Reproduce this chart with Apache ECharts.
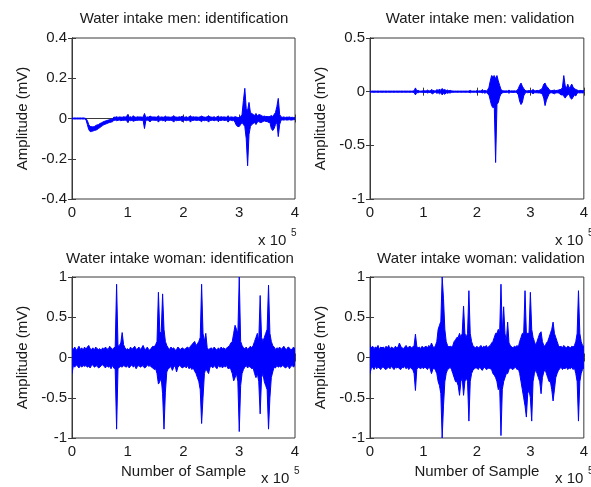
<!DOCTYPE html>
<html><head><meta charset="utf-8">
<script src="https://cdn.jsdelivr.net/npm/echarts@6/dist/echarts.min.js"></script>
<style>html,body{margin:0;padding:0;background:#fff}#c{width:591px;height:487px}</style>
</head><body><div id="c"></div>
<script>
// samples are spaced evenly; each entry is the max (Hi) / min (Lo) of the signal in that bin
const sampleStep = 2500;
const xTickValues = [0, 100000, 200000, 300000, 400000];
const panelTitles = ['Water intake men: identification', 'Water intake men: validation', 'Water intake woman: identification', 'Water intake woman: validation'];
const yLabel = 'Amplitude (mV)';
const xLabel = 'Number of Sample';
const yRanges = [[-0.4, 0.4, 0.2], [-1, 0.5, 0.5], [-1, 1, 0.5], [-1, 1, 0.5]];

const menIdHi = [
0.003,0.002,0.003,0.002,0.003,0.002,0.003,0.002,0.003,0.002,
0.0,-0.01,-0.03,-0.04,-0.04,-0.042,-0.04,-0.035,-0.032,-0.03,
-0.025,-0.022,-0.018,-0.015,-0.012,-0.01,-0.008,-0.005,-0.004,-0.002,
0.007,0.006,0.009,0.005,0.008,0.007,0.006,0.009,0.007,0.008,
0.02,0.006,0.009,0.005,0.014,0.007,0.006,0.009,0.007,0.008,
0.007,0.006,0.025,0.005,0.008,0.007,0.012,0.009,0.007,0.008,
0.007,0.006,0.014,0.005,0.008,0.007,0.006,0.012,0.007,0.008,
0.007,0.006,0.009,0.014,0.008,0.007,0.006,0.009,0.007,0.012,
0.007,0.006,0.009,0.005,0.008,0.014,0.006,0.009,0.007,0.008,
0.007,0.006,0.009,0.012,0.008,0.007,0.006,0.009,0.014,0.008,
0.007,0.006,0.009,0.005,0.008,0.012,0.006,0.009,0.007,0.008,
0.007,0.006,0.014,0.005,0.008,0.007,0.006,0.009,0.007,0.005,
0.005,0.01,0.02,0.09,0.15,0.05,0.04,0.08,0.03,0.025,
0.02,0.015,0.025,0.012,0.02,0.018,0.015,0.01,0.012,0.01,
0.01,0.01,0.01,0.015,0.01,0.02,0.03,0.06,0.1,0.02,
0.008,0.006,0.008,0.005,0.007,0.006,0.008,0.005,0.006,0.005,
0.004];
const menIdLo = [
-0.003,-0.002,-0.003,-0.002,-0.003,-0.002,-0.003,-0.002,-0.003,-0.002,
-0.006,-0.03,-0.055,-0.065,-0.065,-0.062,-0.06,-0.058,-0.055,-0.05,
-0.045,-0.04,-0.035,-0.03,-0.028,-0.025,-0.022,-0.02,-0.018,-0.016,
-0.01,-0.008,-0.011,-0.009,-0.008,-0.011,-0.009,-0.01,-0.008,-0.009,
-0.02,-0.008,-0.011,-0.009,-0.014,-0.011,-0.009,-0.01,-0.008,-0.009,
-0.01,-0.008,-0.05,-0.009,-0.008,-0.011,-0.016,-0.01,-0.008,-0.009,
-0.01,-0.008,-0.018,-0.009,-0.008,-0.011,-0.009,-0.016,-0.008,-0.009,
-0.01,-0.008,-0.011,-0.018,-0.008,-0.011,-0.009,-0.01,-0.008,-0.016,
-0.01,-0.008,-0.011,-0.009,-0.008,-0.018,-0.009,-0.01,-0.008,-0.009,
-0.01,-0.008,-0.011,-0.016,-0.008,-0.011,-0.009,-0.01,-0.018,-0.009,
-0.01,-0.008,-0.011,-0.009,-0.008,-0.016,-0.009,-0.01,-0.008,-0.009,
-0.01,-0.008,-0.018,-0.009,-0.008,-0.011,-0.009,-0.02,-0.035,-0.04,
-0.04,-0.03,-0.02,-0.03,-0.04,-0.1,-0.235,-0.08,-0.04,-0.03,
-0.025,-0.02,-0.03,-0.018,-0.015,-0.02,-0.02,-0.015,-0.012,-0.015,
-0.015,-0.02,-0.02,-0.05,-0.06,-0.05,-0.03,-0.02,-0.09,-0.03,
-0.008,-0.007,-0.008,-0.006,-0.008,-0.007,-0.006,-0.008,-0.007,-0.006,
-0.005];

const menValHi = [
0.006,0.005,0.006,0.005,0.006,0.005,0.006,0.005,0.006,0.005,
0.006,0.005,0.006,0.005,0.006,0.005,0.006,0.005,0.006,0.005,
0.006,0.005,0.006,0.005,0.006,0.005,0.006,0.005,0.006,0.005,
0.006,0.005,0.006,0.008,0.035,0.008,0.012,0.006,0.005,0.006,
0.01,0.008,0.006,0.015,0.008,0.006,0.02,0.012,0.008,0.006,
0.02,0.01,0.025,0.012,0.03,0.015,0.02,0.01,0.015,0.008,
0.012,0.008,0.006,0.005,0.006,0.005,0.006,0.005,0.006,0.005,
0.006,0.005,0.006,0.005,0.006,0.012,0.006,0.005,0.006,0.005,
0.01,0.006,0.008,0.006,0.02,0.008,0.012,0.006,0.015,0.04,
0.1,0.15,0.14,0.15,0.12,0.15,0.1,0.06,0.02,0.01,
0.008,0.006,0.008,0.006,0.015,0.006,0.008,0.006,0.008,0.006,
0.01,0.03,0.06,0.08,0.05,0.03,0.012,0.008,0.008,0.01,
0.008,0.01,0.02,0.01,0.008,0.012,0.01,0.015,0.02,0.035,
0.07,0.08,0.05,0.04,0.02,0.012,0.01,0.012,0.015,0.01,
0.012,0.015,0.02,0.02,0.04,0.15,0.06,0.03,0.07,0.03,
0.05,0.07,0.04,0.03,0.02,0.015,0.01,0.012,0.01,0.01,
0.01];
const menValLo = [
-0.006,-0.005,-0.006,-0.005,-0.006,-0.005,-0.006,-0.005,-0.006,-0.005,
-0.006,-0.005,-0.006,-0.005,-0.006,-0.005,-0.006,-0.005,-0.006,-0.005,
-0.006,-0.005,-0.006,-0.005,-0.006,-0.005,-0.006,-0.005,-0.006,-0.005,
-0.006,-0.005,-0.006,-0.008,-0.03,-0.008,-0.01,-0.006,-0.005,-0.006,
-0.008,-0.008,-0.006,-0.012,-0.008,-0.006,-0.015,-0.02,-0.008,-0.006,
-0.015,-0.01,-0.02,-0.01,-0.03,-0.015,-0.025,-0.01,-0.015,-0.01,
-0.012,-0.008,-0.006,-0.005,-0.006,-0.005,-0.006,-0.005,-0.006,-0.005,
-0.006,-0.005,-0.006,-0.005,-0.006,-0.01,-0.006,-0.005,-0.006,-0.005,
-0.01,-0.006,-0.008,-0.006,-0.012,-0.008,-0.015,-0.006,-0.02,-0.03,
-0.08,-0.13,-0.15,-0.14,-0.66,-0.12,-0.1,-0.05,-0.02,-0.012,
-0.008,-0.006,-0.008,-0.006,-0.015,-0.006,-0.008,-0.006,-0.008,-0.006,
-0.01,-0.03,-0.09,-0.12,-0.1,-0.04,-0.015,-0.008,-0.01,-0.008,
-0.008,-0.01,-0.02,-0.01,-0.01,-0.01,-0.012,-0.012,-0.015,-0.025,
-0.06,-0.13,-0.08,-0.05,-0.02,-0.012,-0.01,-0.015,-0.02,-0.012,
-0.01,-0.012,-0.02,-0.03,-0.03,-0.04,-0.06,-0.04,-0.03,-0.02,
-0.06,-0.07,-0.05,-0.03,-0.04,-0.015,-0.01,-0.012,-0.01,-0.012,
-0.01];

const womanIdHi = [
0.12,0.1,0.13,0.09,0.11,0.14,0.1,0.12,0.09,0.13,
0.1,0.13,0.15,0.11,0.1,0.12,0.09,0.13,0.11,0.1,
0.11,0.09,0.12,0.1,0.13,0.11,0.1,0.14,0.12,0.1,
0.12,0.13,0.91,0.14,0.15,0.18,0.31,0.16,0.12,0.1,
0.11,0.09,0.13,0.1,0.12,0.14,0.1,0.11,0.13,0.1,
0.12,0.15,0.11,0.1,0.13,0.1,0.09,0.12,0.14,0.13,
0.16,0.2,0.81,0.32,0.3,0.79,0.35,0.2,0.15,0.12,
0.1,0.13,0.11,0.12,0.09,0.1,0.13,0.11,0.1,0.12,
0.11,0.1,0.12,0.13,0.11,0.14,0.16,0.18,0.2,0.15,
0.17,0.2,0.25,0.91,0.3,0.2,0.3,0.12,0.1,0.11,
0.12,0.1,0.13,0.11,0.09,0.12,0.1,0.13,0.11,0.12,
0.1,0.12,0.13,0.15,0.18,0.2,0.3,0.4,0.35,0.3,
1.0,0.2,0.15,0.12,0.11,0.13,0.1,0.12,0.14,0.12,
0.15,0.2,0.25,0.3,0.2,0.77,0.25,0.2,0.25,0.3,
0.35,0.9,0.3,0.2,0.15,0.13,0.1,0.12,0.11,0.13,
0.1,0.12,0.14,0.11,0.1,0.13,0.12,0.09,0.11,0.13,
0.1];
const womanIdLo = [
-0.2,-0.1,-0.12,-0.09,-0.11,-0.13,-0.1,-0.12,-0.1,-0.11,
-0.1,-0.12,-0.11,-0.13,-0.1,-0.09,-0.12,-0.11,-0.1,-0.13,
-0.12,-0.1,-0.09,-0.11,-0.13,-0.1,-0.12,-0.11,-0.14,-0.1,
-0.13,-0.15,-0.89,-0.14,-0.12,-0.11,-0.12,-0.1,-0.11,-0.12,
-0.1,-0.13,-0.11,-0.09,-0.12,-0.1,-0.14,-0.11,-0.1,-0.12,
-0.11,-0.1,-0.13,-0.12,-0.09,-0.11,-0.1,-0.12,-0.13,-0.15,
-0.14,-0.2,-0.33,-0.3,-0.25,-0.45,-0.89,-0.43,-0.18,-0.14,
-0.13,-0.11,-0.16,-0.12,-0.1,-0.18,-0.12,-0.1,-0.11,-0.13,
-0.12,-0.11,-0.13,-0.1,-0.14,-0.12,-0.15,-0.13,-0.17,-0.2,
-0.25,-0.3,-0.4,-0.82,-0.5,-0.2,-0.14,-0.17,-0.2,-0.12,
-0.11,-0.13,-0.1,-0.12,-0.14,-0.1,-0.12,-0.11,-0.13,-0.1,
-0.12,-0.1,-0.14,-0.13,-0.15,-0.2,-0.29,-0.25,-0.2,-0.3,
-0.92,-0.35,-0.2,-0.15,-0.12,-0.1,-0.13,-0.11,-0.12,-0.14,
-0.13,-0.2,-0.25,-0.2,-0.3,-0.7,-0.25,-0.2,-0.3,-0.35,
-0.4,-0.89,-0.5,-0.25,-0.18,-0.12,-0.13,-0.1,-0.12,-0.11,
-0.12,-0.1,-0.11,-0.13,-0.12,-0.1,-0.14,-0.11,-0.1,-0.12,
-0.09];

const womanValHi = [
0.15,0.12,0.14,0.11,0.13,0.12,0.15,0.1,0.13,0.12,
0.13,0.11,0.14,0.12,0.15,0.1,0.13,0.12,0.11,0.14,
0.12,0.13,0.18,0.14,0.12,0.11,0.13,0.15,0.12,0.13,
0.14,0.12,0.13,0.15,0.29,0.14,0.12,0.13,0.11,0.14,
0.12,0.13,0.14,0.12,0.15,0.13,0.18,0.14,0.12,0.15,
0.2,0.35,0.4,0.45,1.0,0.73,0.35,0.2,0.15,0.13,
0.14,0.13,0.15,0.2,0.22,0.25,0.25,0.3,0.25,0.3,
0.64,0.3,0.25,0.3,0.83,0.3,0.2,0.15,0.13,0.12,
0.14,0.12,0.13,0.15,0.12,0.14,0.13,0.15,0.12,0.14,
0.15,0.18,0.2,0.25,0.3,0.3,0.35,0.3,0.91,0.3,
0.63,0.3,0.2,0.44,0.18,0.15,0.13,0.12,0.14,0.13,
0.15,0.13,0.2,0.25,0.3,0.3,0.83,0.3,0.3,0.3,
0.81,0.35,0.25,0.2,0.15,0.2,0.25,0.3,0.32,0.2,
0.15,0.14,0.18,0.2,0.25,0.3,0.35,0.44,0.3,0.25,
0.2,0.15,0.13,0.14,0.12,0.15,0.13,0.12,0.14,0.13,
0.12,0.14,0.13,0.15,0.2,0.3,0.83,0.3,0.2,0.15,
0.14];
const womanValLo = [
-0.2,-0.13,-0.12,-0.15,-0.11,-0.14,-0.12,-0.13,-0.15,-0.12,
-0.12,-0.14,-0.15,-0.13,-0.12,-0.14,-0.11,-0.13,-0.15,-0.12,
-0.13,-0.12,-0.14,-0.15,-0.12,-0.13,-0.11,-0.14,-0.12,-0.15,
-0.12,-0.14,-0.15,-0.2,-0.41,-0.15,-0.12,-0.13,-0.14,-0.12,
-0.14,-0.12,-0.13,-0.15,-0.12,-0.14,-0.2,-0.15,-0.13,-0.16,
-0.2,-0.3,-0.35,-0.45,-1.0,-0.6,-0.3,-0.2,-0.15,-0.14,
-0.12,-0.15,-0.2,-0.25,-0.3,-0.3,-0.35,-0.47,-0.3,-0.25,
-0.47,-0.3,-0.25,-0.3,-0.79,-0.3,-0.2,-0.16,-0.14,-0.13,
-0.13,-0.15,-0.12,-0.14,-0.16,-0.13,-0.12,-0.15,-0.14,-0.13,
-0.14,-0.15,-0.2,-0.22,-0.25,-0.3,-0.4,-0.35,-0.97,-0.4,
-0.3,-0.25,-0.2,-0.2,-0.15,-0.13,-0.14,-0.15,-0.13,-0.12,
-0.15,-0.14,-0.2,-0.3,-0.4,-0.5,-0.6,-0.74,-0.45,-0.4,
-0.5,-0.79,-0.3,-0.2,-0.15,-0.2,-0.25,-0.3,-0.45,-0.25,
-0.18,-0.15,-0.2,-0.25,-0.3,-0.3,-0.4,-0.54,-0.4,-0.25,
-0.2,-0.16,-0.14,-0.12,-0.15,-0.13,-0.14,-0.12,-0.15,-0.13,
-0.14,-0.12,-0.15,-0.13,-0.2,-0.3,-0.79,-0.3,-0.2,-0.15,
-0.13];

const panelHi = [menIdHi, menValHi, womanIdHi, womanValHi];
const panelLo = [menIdLo, menValLo, womanIdLo, womanValLo];

// ---- layout / styling ----
const FONT = '"Liberation Sans", Arial, Helvetica, sans-serif';
const TXT = '#1a1a1a';
const FRAME = '#3a3a3a';
const grids = [
  {left: 72, top: 38, width: 223, height: 161},
  {left: 370, top: 38, width: 222, height: 161},
  {left: 72, top: 277, width: 223, height: 161},
  {left: 370, top: 277, width: 222, height: 161}
];

// the signal envelope: upper values left-to-right, then lower values right-to-left,
// every vertex placed through the axes' own scale (api.coord)
function makeBand(k) {
  const hi = panelHi[k], lo = panelLo[k];
  return function (params, api) {
    const pts = [];
    for (let i = 0; i < hi.length; i++) pts.push(api.coord([i * sampleStep, hi[i]]));
    for (let i = lo.length - 1; i >= 0; i--) pts.push(api.coord([i * sampleStep, lo[i]]));
    return {type: 'polygon', shape: {points: pts},
      style: {fill: '#0000ff', stroke: '#0000ff', lineWidth: 1, lineJoin: 'miter', miterLimit: 2}};
  };
}

const xAxes = [], yAxes = [], series = [];
grids.forEach((g, k) => {
  const bottomRow = k >= 2;
  const common = {
    type: 'value', gridIndex: k, min: xTickValues[0], max: xTickValues[xTickValues.length - 1],
    interval: xTickValues[1] - xTickValues[0],
    axisLine: {show: true, lineStyle: {color: FRAME, width: 1}},
    axisTick: {show: true, inside: true, length: 4, lineStyle: {color: FRAME}},
    splitLine: {show: false}
  };
  xAxes.push(Object.assign({}, common, {
    position: 'bottom',
    axisLabel: {show: true, color: TXT, fontFamily: FONT, fontSize: 15, margin: 6,
      formatter: v => String(Math.round(v / 100000))},
    name: bottomRow ? xLabel : '', nameLocation: 'middle', nameGap: 26,
    nameTextStyle: {color: TXT, fontFamily: FONT, fontSize: 15}
  }));
  xAxes.push(Object.assign({}, common, {position: 'top', axisLabel: {show: false}}));
  const [ymin, ymax, yint] = yRanges[k];
  const yc = {
    type: 'value', gridIndex: k, min: ymin, max: ymax, interval: yint,
    axisLine: {show: true, lineStyle: {color: FRAME, width: 1}},
    axisTick: {show: true, inside: true, length: 4, lineStyle: {color: FRAME}},
    splitLine: {show: false}
  };
  yAxes.push(Object.assign({}, yc, {
    position: 'left',
    axisLabel: {show: true, color: TXT, fontFamily: FONT, fontSize: 15, margin: 5},
    name: yLabel, nameLocation: 'middle', nameGap: 42, nameRotate: 90,
    nameTextStyle: {color: TXT, fontFamily: FONT, fontSize: 15}
  }));
  yAxes.push(Object.assign({}, yc, {position: 'right', axisLabel: {show: false}}));
  series.push({
    type: 'custom', coordinateSystem: 'cartesian2d', xAxisIndex: 2 * k, yAxisIndex: 2 * k,
    data: [[0, 0]],
    renderItem: makeBand(k), clip: true, animation: false, silent: true
  });
});

function text(x, y, str, size, align) {
  return {type: 'text', x: x, y: y, silent: true,
    style: {text: str, font: size + 'px ' + FONT, fill: TXT,
      textAlign: align, align: align, textVerticalAlign: 'middle', verticalAlign: 'middle'}};
}
const titleCenters = [[184, 19], [480, 19], [180, 259], [481, 259]];
const graphics = [];
panelTitles.forEach((t, k) => graphics.push(text(titleCenters[k][0], titleCenters[k][1], t, 15, 'center')));
const expPos = [[258, 241], [555, 241], [261, 479], [555, 479]];
expPos.forEach(p => {
  graphics.push(text(p[0], p[1], 'x 10', 15, 'left'));
  graphics.push(text(p[0] + 33, p[1] - 8, '5', 10, 'left'));
});

const chart = echarts.init(document.getElementById('c'), null, {renderer: 'canvas'});
chart.setOption({
  backgroundColor: '#ffffff',
  animation: false,
  grid: grids.map(g => Object.assign({show: true, borderColor: FRAME, borderWidth: 1, backgroundColor: '#fff', containLabel: false}, g)),
  xAxis: xAxes,
  yAxis: yAxes,
  series: series,
  graphic: graphics
});
</script>
</body></html>
